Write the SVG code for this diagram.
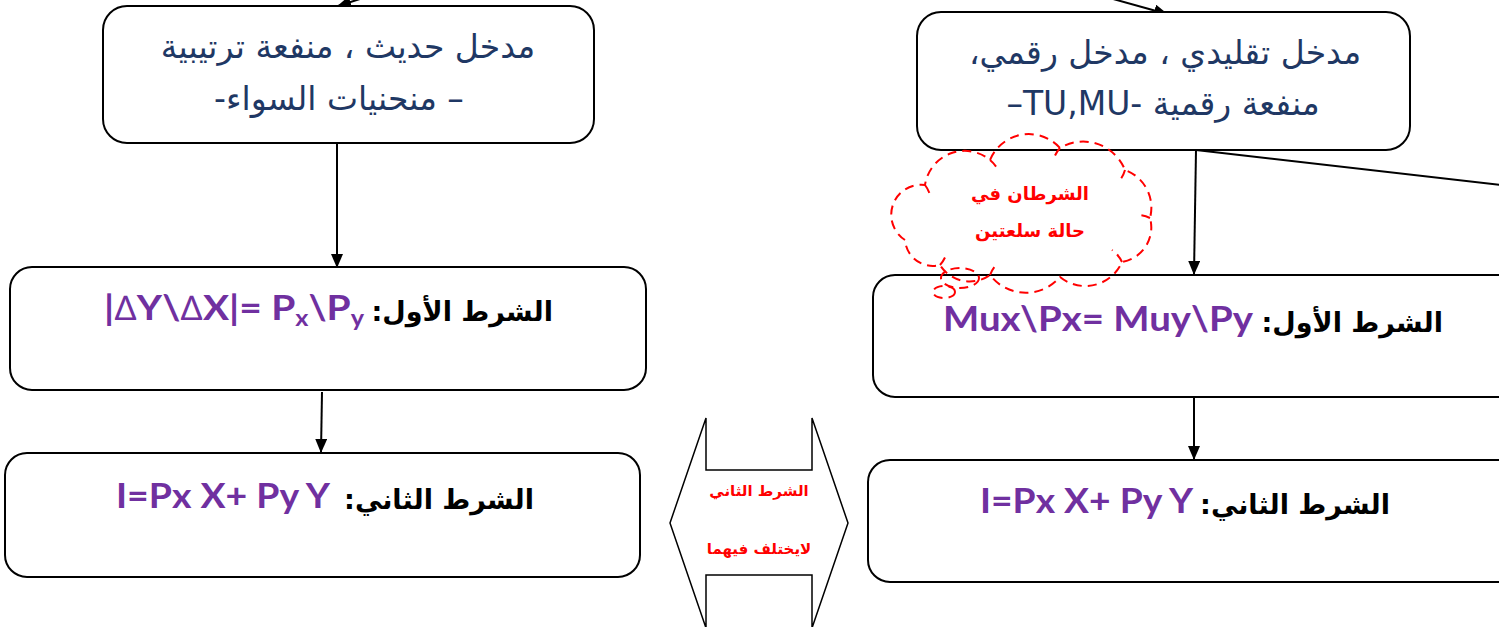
<svg xmlns="http://www.w3.org/2000/svg" width="1499" height="627" viewBox="0 0 1499 627">
<style>
.box{fill:#fff;stroke:#000;stroke-width:2}
.con{fill:none;stroke:#000;stroke-width:2}
.top{font-family:'DejaVu Sans',sans-serif;font-size:33px;fill:#1F3864}
.ar{font-family:'DejaVu Sans',sans-serif;font-size:27px;font-weight:bold;fill:#000}
.f{font-family:Lato,'Open Sans',sans-serif;font-size:34px;font-weight:bold;fill:#7030A0}
.red{font-family:'DejaVu Sans',sans-serif;font-weight:bold;fill:#FF0000}
.cloud{fill:none;stroke:#FF0000;stroke-width:2;stroke-dasharray:9 6}
</style>
<defs>
<marker id="ah" markerWidth="14" markerHeight="12" refX="13" refY="6" orient="auto" markerUnits="userSpaceOnUse">
<path d="M0,0 L14,6 L0,12 Z" fill="#000"/>
</marker>
</defs>
<rect width="1499" height="627" fill="#fff"/>
<g id="connectors">
<line class="con" x1="385" y1="-9" x2="338" y2="6" marker-end="url(#ah)"/>
<line class="con" x1="1088" y1="-8" x2="1167" y2="14" marker-end="url(#ah)"/>
<line class="con" x1="337" y1="143" x2="337" y2="267" marker-end="url(#ah)"/>
<line class="con" x1="322" y1="392" x2="321" y2="452" marker-end="url(#ah)"/>
<line class="con" x1="1196" y1="150" x2="1194" y2="274" marker-end="url(#ah)"/>
<line class="con" x1="1196" y1="150" x2="1502" y2="185"/>
<line class="con" x1="1194" y1="398" x2="1194" y2="459" marker-end="url(#ah)"/>
</g>
<g id="node-left-top">
<rect class="box" x="103" y="6" width="491" height="137" rx="24"/>
<text class="top" x="348" y="58" text-anchor="middle" direction="rtl">مدخل حديث ، منفعة ترتيبية</text>
<text class="top" x="339" y="110" text-anchor="middle" direction="rtl" font-size="36">– منحنيات السواء-</text>
</g>
<g id="node-right-top">
<rect class="box" x="917" y="12" width="493" height="138" rx="24"/>
<text class="top" x="1165" y="64" text-anchor="middle" direction="rtl">مدخل تقليدي ، مدخل رقمي،</text>
<text class="top" x="1163" y="115" text-anchor="middle" direction="rtl" font-size="35">منفعة رقمية -TU,MU–</text>
</g>
<g id="node-left-cond1">
<rect class="box" x="10" y="267" width="636" height="123" rx="22"/>
<text class="ar" x="553" y="321" text-anchor="start" direction="rtl">الشرط الأول:</text>
<text class="f" x="104" y="320" textLength="260" lengthAdjust="spacingAndGlyphs">|<tspan font-weight="normal">∆</tspan>Y\<tspan font-weight="normal">∆</tspan>X|= P<tspan font-size="22" dy="6">x</tspan><tspan dy="-6">\P</tspan><tspan font-size="22" dy="6">y</tspan></text>
</g>
<g id="node-right-cond1">
<rect class="box" x="873" y="275" width="650" height="122" rx="22"/>
<text class="ar" x="1443" y="332" text-anchor="start" direction="rtl">الشرط الأول:</text>
<text class="f" x="943" y="331" textLength="310" lengthAdjust="spacingAndGlyphs">Mux\Px= Muy\Py</text>
</g>
<g id="node-left-cond2">
<rect class="box" x="5" y="453" width="635" height="124" rx="22"/>
<text class="ar" x="534" y="509" text-anchor="start" direction="rtl">الشرط الثاني:</text>
<text class="f" x="116" y="508" textLength="214" lengthAdjust="spacingAndGlyphs">I=Px X+ Py Y</text>
</g>
<g id="node-right-cond2">
<rect class="box" x="868" y="460" width="655" height="122" rx="22"/>
<text class="ar" x="1390" y="514" text-anchor="start" direction="rtl">الشرط الثاني:</text>
<text class="f" x="980" y="513" textLength="213" lengthAdjust="spacingAndGlyphs">I=Px X+ Py Y</text>
</g>
<g id="node-double-arrow">
<polygon points="670,523 706,418 706,470 812,470 812,418 848,523 812,628 812,575 706,575 706,628" fill="#fff" stroke="#000" stroke-width="1.5"/>
<text class="red" x="759" y="496" font-size="15" text-anchor="middle" direction="rtl">الشرط الثاني</text>
<text class="red" x="759" y="554" font-size="15" text-anchor="middle" direction="rtl">لايختلف فيهما</text>
</g>
<g id="node-cloud">
<path class="cloud" fill="#fff" d="M905,240 A30,30 0 0 1 925,185 A40,40 0 0 1 990,160 A42,42 0 0 1 1060,148 A45,45 0 0 1 1125,170 A40,40 0 0 1 1150,218 A35,35 0 0 1 1122,262 A40,40 0 0 1 1060,277 A45,45 0 0 1 990,275 A35,35 0 0 1 940,265 A28,28 0 0 1 905,240 Z"/>
<path class="cloud" d="M925,185 A30,30 0 0 1 930,195 M990,160 A30,30 0 0 1 998,170 M1060,148 A30,30 0 0 0 1054,158 M1125,170 A30,30 0 0 1 1120,180 M1150,218 A30,30 0 0 0 1137,215 M1122,262 A30,30 0 0 0 1112,250 M990,275 A30,30 0 0 1 996,265 M940,265 A30,30 0 0 0 946,255"/>
<ellipse class="cloud" cx="960" cy="278" rx="19" ry="10" fill="#fff"/>
<ellipse class="cloud" cx="944" cy="292" rx="11" ry="6" fill="#fff"/>
<text class="red" x="1030" y="200" font-size="18" text-anchor="middle" direction="rtl">الشرطان في</text>
<text class="red" x="1030" y="237" font-size="18" text-anchor="middle" direction="rtl">حالة سلعتين</text>
</g>
</svg>
